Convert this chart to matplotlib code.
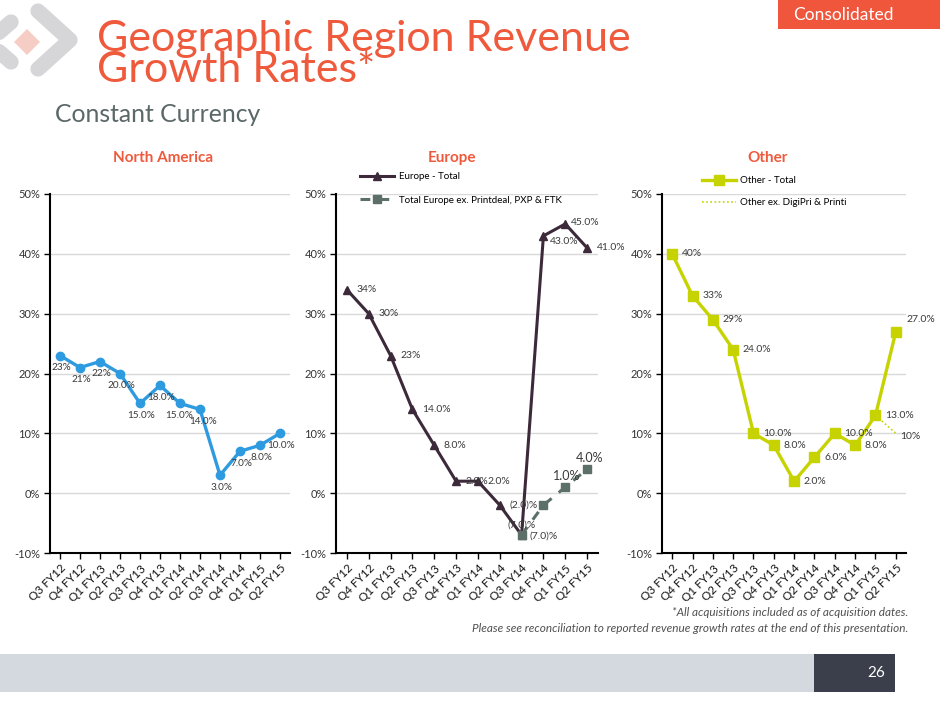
import numpy as np
import matplotlib
matplotlib.use("Agg")
import matplotlib.pyplot as plt
import matplotlib.patches as mpatches
from matplotlib.transforms import Affine2D
from matplotlib.lines import Line2D

plt.rcParams['font.family'] = ['Lato', 'DejaVu Sans']
plt.rcParams['axes.unicode_minus'] = False

# ---------------- data ----------------
quarters = ['Q3 FY12', 'Q4 FY12', 'Q1 FY13', 'Q2 FY13', 'Q3 FY13', 'Q4 FY13',
            'Q1 FY14', 'Q2 FY14', 'Q3 FY14', 'Q4 FY14', 'Q1 FY15', 'Q2 FY15']

na_total = [23, 21, 22, 20, 15, 18, 15, 14, 3, 7, 8, 10]
na_labels = ['23%', '21%', '22%', '20.0%', '15.0%', '18.0%', '15.0%', '14.0%',
             '3.0%', '7.0%', '8.0%', '10.0%']

eu_total = [34, 30, 23, 14, 8, 2, 2, -2, -7, 43, 45, 41]
eu_labels = ['34%', '30%', '23%', '14.0%', '8.0%', '2.0%', '2.0%', '(2.0)%',
             '(7.0)%', '43.0%', '45.0%', '41.0%']
eu_ex = [np.nan] * 8 + [-7, -2, 1, 4]
eu_ex_labels = [''] * 8 + ['(7.0)%', '', '1.0%', '4.0%']

ot_total = [40, 33, 29, 24, 10, 8, 2, 6, 10, 8, 13, 27]
ot_labels = ['40%', '33%', '29%', '24.0%', '10.0%', '8.0%', '2.0%', '6.0%',
             '10.0%', '8.0%', '13.0%', '27.0%']
ot_ex = [np.nan] * 10 + [13, 10]
ot_ex_labels = [''] * 11 + ['10%']

yticks = [-10, 0, 10, 20, 30, 40, 50]

# ---------------- style ----------------
ORANGE = '#ef5a3d'
NA_COL = '#2e9be0'
EU_COL = '#3c2a3a'
EU_EX_COL = '#5c6f69'
OT_COL = '#c6d300'
LBL_COL = '#3a3a3a'

fig = plt.figure(figsize=(9.4, 7.05), dpi=100)
W, H = 940, 705
px = Affine2D().scale(1 / W, -1 / H).translate(0, 1) + fig.transFigure


def ptext(x, y, s, **kw):
    return fig.text(x / W, 1 - y / H, s, **kw)


# header logo
for pts in ([(11, 22), (-12, 42), (11, 62)], [(38, 11), (70, 40), (38, 69)]):
    xs, ys = zip(*pts)
    fig.add_artist(Line2D(xs, ys, transform=px, color='#d6d6d8', lw=11,
                          solid_capstyle='round', solid_joinstyle='round'))
fig.add_artist(mpatches.Polygon([(27, 29), (40, 42), (27, 55), (14, 42)], closed=True,
                                transform=px, color='#f6cdc5', lw=0))

# multi-line text: baseline refers to the last line
ptext(97, 82, 'Geographic Region Revenue\nGrowth Rates*', fontsize=31, color=ORANGE,
      va='baseline', linespacing=0.78)
ptext(55, 115, 'Constant Currency', fontsize=17.8, color='#5c6767', va='center')

fig.add_artist(mpatches.Rectangle((778, 0), 162, 29, transform=px, color='#f0563c', lw=0))
ptext(843, 15, 'Consolidated', fontsize=12.5, color='white', ha='center', va='center')

# footer
fig.add_artist(mpatches.Rectangle((0, 654), 895, 38, transform=px, color='#d4d8df', lw=0))
fig.add_artist(mpatches.Rectangle((814, 654), 81, 38, transform=px, color='#3a3f4b', lw=0))
ptext(876, 673, '26', fontsize=11, color='white', ha='center', va='center')
ptext(908, 612, '*All acquisitions included as of acquisition dates.', fontsize=8.5,
      style='italic', color='#505050', ha='right', va='center')
ptext(908, 628, 'Please see reconciliation to reported revenue growth rates at the end of this presentation.',
      fontsize=8.5, style='italic', color='#505050', ha='right', va='center')


def make_ax(left, width, title, tx):
    ax = fig.add_axes([left / W, 1 - 553 / H, width / W, (553 - 194) / H])
    x = np.arange(len(quarters))
    ax.set_xlim(-0.5, len(quarters) - 0.5)
    ax.set_ylim(-10, 50)
    ax.set_yticks(yticks)
    ax.set_yticklabels([f'{v}%' for v in yticks], fontsize=8, color='#333333')
    ax.set_xticks(x)
    ax.set_xticklabels(quarters, rotation=45, ha='right', va='top',
                       rotation_mode='anchor', fontsize=8.5, color='#111111')
    ax.tick_params(axis='both', direction='out', length=4, width=1, pad=3)
    ax.grid(axis='y', color='#d9d9d9', lw=1)
    ax.set_axisbelow(True)
    for s in ('top', 'right'):
        ax.spines[s].set_visible(False)
    for s in ('left', 'bottom'):
        ax.spines[s].set_linewidth(1.5)
    ptext(tx, 158, title, fontsize=11, fontweight='bold', color=ORANGE,
          ha='center', va='center')
    return ax, x


def put_labels(ax, x, vals, labels, offsets, ha='left', sizes=None, **kw):
    sizes = sizes or [7.5] * len(labels)
    for xi, v, s, off, fs in zip(x, vals, labels, offsets, sizes):
        if s:
            ax.annotate(s, (xi, v), xytext=off, textcoords='offset points',
                        ha=ha, va='center', fontsize=fs, **kw)


# North America
ax, x = make_ax(50, 240, 'North America', 163)
ax.plot(x, na_total, color=NA_COL, lw=2.4, marker='o', ms=6)
na_off = [(1, -8.5)] * 12
na_off[6] = (-0.5, -8.5)
na_off[7] = (2.5, -8.5)
put_labels(ax, x, na_total, na_labels, na_off, ha='center', sizes=[7.2] * 12,
           color=LBL_COL)

# Europe
ax, x = make_ax(336, 262, 'Europe', 452)
ax.plot(x, eu_total, color=EU_COL, lw=2.2, marker='^', ms=5.5, label='Europe - Total')
ax.plot(x, eu_ex, color=EU_EX_COL, lw=2.2, ls=(0, (3.2, 3.0)), marker='s', ms=6,
        label='Total Europe ex. Printdeal, PXP & FTK')
eu_off = [(7, 0)] * 12
eu_off[8] = (-10, 7)
eu_off[9] = (5, -4)
eu_off[10] = (4, 1)
eu_off[11] = (7, 0)
put_labels(ax, x, eu_total, eu_labels, eu_off, color=LBL_COL)
put_labels(ax, x, eu_ex, eu_ex_labels, [(6, -1)] * 9 + [(0, 0), (-9, 8), (-8, 8)],
           sizes=[7.5] * 10 + [9, 9], color=LBL_COL)
ax.legend(loc='upper left', bbox_to_anchor=(0.09, 1.06), frameon=False, fontsize=7,
          handlelength=3.5, labelspacing=1.45, borderpad=0, borderaxespad=0,
          handletextpad=0.6)

# Other
ax, x = make_ax(662, 244, 'Other', 768)
ax.plot(x, ot_total, color=OT_COL, lw=2.4, marker='s', ms=6.5, label='Other - Total')
ax.plot(x, ot_ex, color=OT_COL, lw=1.2, ls=(0, (1, 1.5)), label='Other ex. DigiPri & Printi')
ot_off = [(7, 0)] * 12
ot_off[11] = (8, 9)
put_labels(ax, x, ot_total, ot_labels, ot_off, color=LBL_COL)
put_labels(ax, x, ot_ex, ot_ex_labels, [(3, -2)] * 12, color=LBL_COL)
ax.legend(loc='upper left', bbox_to_anchor=(0.165, 1.05), frameon=False, fontsize=7,
          handlelength=3.5, labelspacing=1.35, borderpad=0, borderaxespad=0,
          handletextpad=0.4)

fig.savefig('out.png', dpi=100)
